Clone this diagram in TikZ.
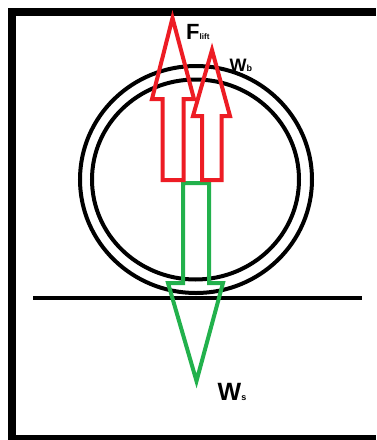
\documentclass[tikz,border=0pt]{standalone}
\usepackage{fontspec}
\setmainfont{Liberation Sans}
\definecolor{pred}{HTML}{ED1C24}
\definecolor{pgreen}{HTML}{22B14C}
\tikzset{
  redarrow/.style={draw=pred, line width=4pt, miter limit=20},
  greenarrow/.style={draw=pgreen, line width=4pt, miter limit=20},
  ring/.style={draw=black, line width=4pt},
  lbl/.style={inner sep=0pt, anchor=base west, font=\bfseries}
}
\begin{document}
\begin{tikzpicture}[x=1pt, y=-1pt]
\useasboundingbox (0,0) rectangle (376,440);
% frame
\fill[black] (8,8) rectangle (376,16);
\fill[black] (8,8) rectangle (16,440);
\fill[black] (8,435) rectangle (376,440);
% rings
\draw[ring] (196,179.5) ellipse [x radius=116, y radius=113.5];
\draw[ring] (195.5,179.5) ellipse [x radius=103.5, y radius=100];
% ground
\draw[black, line width=4.5pt] (33,298) -- (362,298);
% green arrow (W_s)
\draw[greenarrow] (183,183) -- (209,183) -- (209,283) -- (223,283) -- (196.5,381) -- (168,283) -- (183,283) -- cycle;
% red arrow (F_lift)
\draw[redarrow] (162.5,180) -- (183.5,180) -- (183.5,99) -- (194,99) -- (172.5,18) -- (152,99) -- (162.5,99) -- cycle;
% red arrow (W_b)
\draw[redarrow] (202,180) -- (221.5,180) -- (221.5,116) -- (230,116) -- (212,50) -- (193,116) -- (202,116) -- cycle;
% labels
\node[lbl, font=\bfseries\fontsize{22}{24}\selectfont] (flift) at (186,39) {F\raisebox{0pt}{\fontsize{8}{9}\selectfont lift}};
\node[lbl, font=\bfseries\fontsize{18}{20}\selectfont] (wb) at (229.5,71) {W\raisebox{0pt}{\fontsize{9}{10}\selectfont b}};
\node[lbl, font=\bfseries\fontsize{25}{27}\selectfont] (ws) at (217.5,400) {W\raisebox{0pt}{\fontsize{9}{10}\selectfont s}};
\end{tikzpicture}
\end{document}
